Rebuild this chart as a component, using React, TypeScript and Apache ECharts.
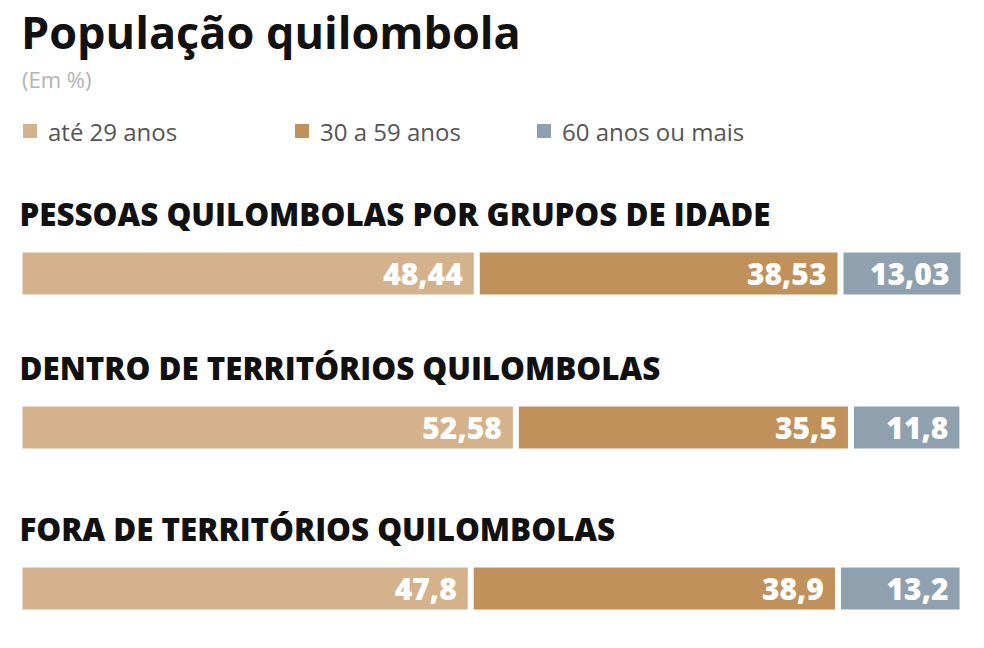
// Tres barras empilhadas a 100% com a distribuicao etaria da populacao quilombola:
// total, dentro e fora dos territorios. Um grid por barra, titulo de cada uma no nome do eixo.
import { useEffect, useRef } from 'react'
import * as echarts from 'echarts'

const GRUPOS = [
  'PESSOAS QUILOMBOLAS POR GRUPOS DE IDADE',
  'DENTRO DE TERRITÓRIOS QUILOMBOLAS',
  'FORA DE TERRITÓRIOS QUILOMBOLAS',
]
const FAIXAS = ['até 29 anos', '30 a 59 anos', '60 anos ou mais']
const ATE_29 = [48.44, 52.58, 47.8]
const DE_30_A_59 = [38.53, 35.5, 38.9]
const MAIS_60 = [13.03, 11.8, 13.2]

const CORES = ['#d4b28c', '#c0915a', '#8fa1ae']
const FONTE = '"Open Sans", sans-serif'

const GRID_TOPS = [249.5, 403.5, 564.5]
const LEGEND_LEFTS = [21, 293, 535]

export default function App() {
  const ref = useRef<HTMLDivElement>(null)

  useEffect(() => {
    if (!ref.current) return
    const chart = echarts.init(ref.current, null, { renderer: 'svg' })
    const valores = [ATE_29, DE_30_A_59, MAIS_60]

    const series: any[] = []
    GRUPOS.forEach((_, g) => {
      FAIXAS.forEach((faixa, f) => {
        series.push({
          type: 'bar',
          name: faixa,
          xAxisIndex: g,
          yAxisIndex: g,
          stack: 'g' + g,
          barWidth: '100%',
          data: [valores[f][g]],
          itemStyle: { color: CORES[f], borderColor: '#fff', borderWidth: 3 },
          label: {
            show: true,
            position: 'insideRight',
            distance: 14,
            color: '#fff',
            fontFamily: FONTE,
            fontWeight: 800,
            fontSize: 30,
            formatter: (p: any) => String(p.value).replace('.', ','),
          },
        })
      })
    })

    chart.setOption({
      animation: false,
      backgroundColor: '#fff',
      textStyle: { fontFamily: FONTE },
      title: [
        {
          text: 'População quilombola',
          left: 16,
          top: 4,
          textStyle: { fontFamily: FONTE, fontWeight: 'bold', fontSize: 45, color: '#111' },
        },
        {
          text: '(Em %)',
          left: 17,
          top: 63,
          textStyle: { fontFamily: FONTE, fontWeight: 'normal', fontSize: 22, color: '#b3b3b3' },
        },
      ],
      legend: FAIXAS.map((faixa, i) => ({
        data: [faixa],
        left: LEGEND_LEFTS[i],
        top: 119,
        padding: 0,
        icon: 'rect',
        itemWidth: 16,
        itemHeight: 16,
        selectedMode: false,
        textStyle: { fontFamily: FONTE, fontSize: 24, color: '#555', padding: [0, 0, 0, 5] },
      })),
      grid: GRID_TOPS.map((top) => ({ left: 19.5, right: 20.5, top, height: 48 })),
      xAxis: GRUPOS.map((_, g) => ({
        type: 'value',
        gridIndex: g,
        min: 0,
        max: 100,
        show: false,
      })),
      yAxis: GRUPOS.map((grupo, g) => ({
        type: 'category',
        gridIndex: g,
        data: [grupo],
        name: grupo,
        nameLocation: 'end',
        nameGap: 36,
        nameTextStyle: {
          fontFamily: FONTE,
          fontWeight: 800,
          fontSize: 31.3,
          color: '#111',
          align: 'left',
          verticalAlign: 'middle',
        },
        axisLine: { show: false },
        axisTick: { show: false },
        axisLabel: { show: false },
        splitLine: { show: false },
      })),
      series,
    })

    return () => chart.dispose()
  }, [])

  return (
    <div
      ref={ref}
      style={{ position: 'fixed', left: 0, top: 0, width: 984, height: 648 }}
    />
  )
}
